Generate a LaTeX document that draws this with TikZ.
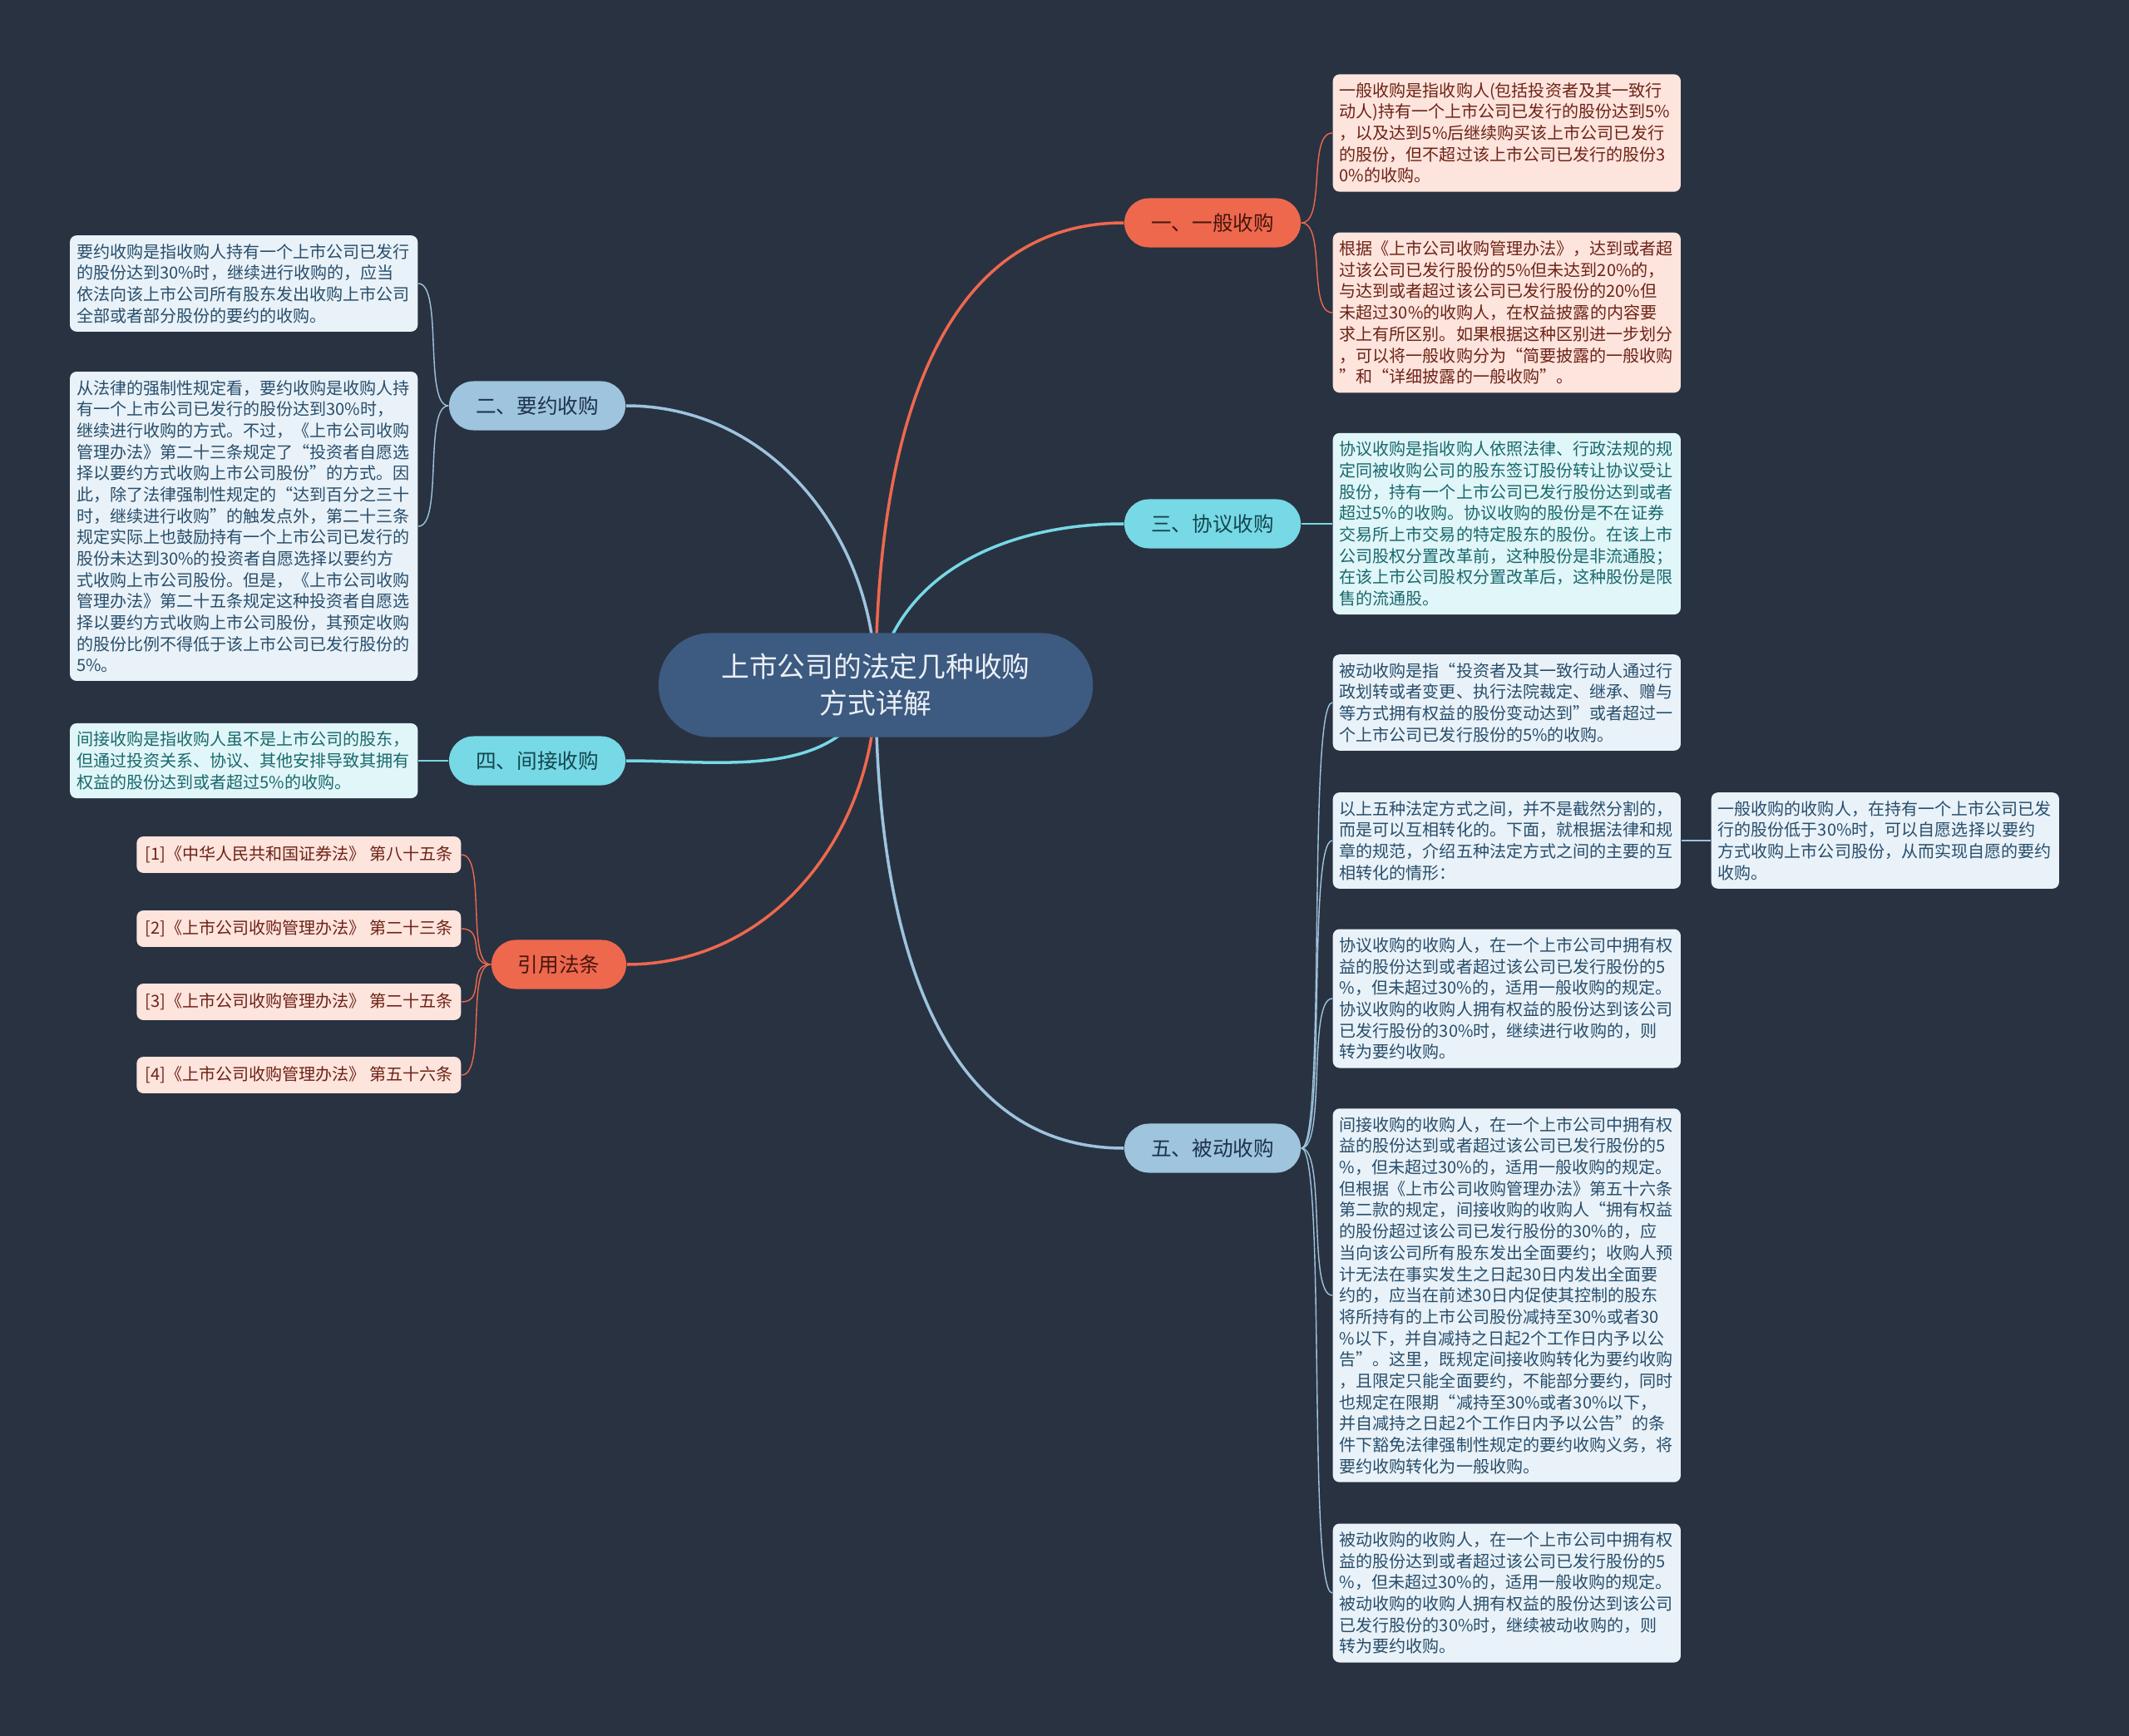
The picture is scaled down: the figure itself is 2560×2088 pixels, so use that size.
\documentclass[tikz,border=0pt]{standalone}
\usepackage{fontspec}
\setmainfont{Noto Sans CJK SC}
\usepackage{xcolor}
\usetikzlibrary{backgrounds}
\definecolor{bgdark}{RGB}{41, 50, 65}
\definecolor{rootblue}{RGB}{61, 90, 128}
\definecolor{roottext}{RGB}{235, 240, 246}
\definecolor{coral}{RGB}{238, 104, 78}
\definecolor{coraltext}{RGB}{70, 22, 12}
\definecolor{skyblue}{RGB}{158, 196, 222}
\definecolor{skytext}{RGB}{30, 50, 75}
\definecolor{aqua}{RGB}{118, 217, 229}
\definecolor{aquatext}{RGB}{20, 70, 80}
\definecolor{lightcoral}{RGB}{253, 228, 221}
\definecolor{coralleaftext}{RGB}{110, 35, 22}
\definecolor{lightsky}{RGB}{233, 242, 248}
\definecolor{skyleaftext}{RGB}{40, 78, 108}
\definecolor{lightaqua}{RGB}{225, 246, 248}
\definecolor{aqualeaftext}{RGB}{25, 105, 110}

\begin{document}
\begin{tikzpicture}[
        x=0.01cm, y=-0.01cm,
        mainnode/.style={rectangle, rounded corners=0.62cm, fill=rootblue, text=roottext, minimum width=5.22cm, minimum height=1.25cm, align=center, font=\fontsize{9.6}{12.5}\selectfont},
        topic/.style={rectangle, rounded corners=0.295cm, minimum width=2.12cm, minimum height=0.59cm, inner sep=0pt, font=\fontsize{7}{8.4}\selectfont},
        coraltopic/.style={topic, fill=coral, text=coraltext},
        skytopic/.style={topic, fill=skyblue, text=skytext},
        aquatopic/.style={topic, fill=aqua, text=aquatext},
        leafbox/.style={rectangle, rounded corners=0.08cm, text width=4.02cm, align=left, inner xsep=0.08cm, inner ysep=0.1cm, font=\fontsize{5.7}{7.3}\selectfont},
        coralleaf/.style={leafbox, fill=lightcoral, text=coralleaftext},
        skyleaf/.style={leafbox, fill=lightsky, text=skyleaftext},
        aqualeaf/.style={leafbox, fill=lightaqua, text=aqualeaftext},
        citebox/.style={rectangle, rounded corners=0.08cm, minimum width=3.88cm, minimum height=0.43cm, inner xsep=0.1cm, fill=lightcoral, text=coralleaftext, font=\fontsize{5.7}{7.3}\selectfont},
        mainlink/.style={line width=1pt},
        rightlink/.style={line width=0.7pt, out=0, in=180, out distance=0.3cm, in distance=0.3cm},
        leftlink/.style={line width=0.7pt, out=180, in=0, out distance=0.3cm, in distance=0.3cm}
    ]
    \useasboundingbox (0,0) rectangle (2560,2088);

    % Root
    \node[mainnode] (root) at (1053,824) {上市公司的法定几种收购\\方式详解};

    % Topics
    \node[coraltopic] (general) at (1458,268) {一、一般收购};
    \node[skytopic] (tender) at (646,488) {二、要约收购};
    \node[aquatopic] (agreement) at (1458,630) {三、协议收购};
    \node[aquatopic] (indirect) at (646,915) {四、间接收购};
    \node[coraltopic, minimum width=1.62cm] (citations) at (672,1160) {引用法条};
    \node[skytopic] (passive) at (1458,1381) {五、被动收购};

    % Leaves of general
    \node[coralleaf, anchor=west] (general1) at (1602,160) {一般收购是指收购人(包括投资者及其一致行\\动人)持有一个上市公司已发行的股份达到5\%\\，以及达到5\%后继续购买该上市公司已发行\\的股份，但不超过该上市公司已发行的股份3\\0\%的收购。};
    \node[coralleaf, anchor=west] (general2) at (1602,376) {根据《上市公司收购管理办法》，达到或者超\\过该公司已发行股份的5\%但未达到20\%的，\\与达到或者超过该公司已发行股份的20\%但\\未超过30\%的收购人，在权益披露的内容要\\求上有所区别。如果根据这种区别进一步划分\\，可以将一般收购分为“简要披露的一般收购\\”和“详细披露的一般收购”。};

    % Leaf of agreement
    \node[aqualeaf, anchor=west] (agreement1) at (1602,630) {协议收购是指收购人依照法律、行政法规的规\\定同被收购公司的股东签订股份转让协议受让\\股份，持有一个上市公司已发行股份达到或者\\超过5\%的收购。协议收购的股份是不在证券\\交易所上市交易的特定股东的股份。在该上市\\公司股权分置改革前，这种股份是非流通股；\\在该上市公司股权分置改革后，这种股份是限\\售的流通股。};

    % Leaves of tender
    \node[skyleaf, anchor=east] (tender1) at (503,341) {要约收购是指收购人持有一个上市公司已发行\\的股份达到30\%时，继续进行收购的，应当\\依法向该上市公司所有股东发出收购上市公司\\全部或者部分股份的要约的收购。};
    \node[skyleaf, anchor=east] (tender2) at (503,633) {从法律的强制性规定看，要约收购是收购人持\\有一个上市公司已发行的股份达到30\%时，\\继续进行收购的方式。不过，《上市公司收购\\管理办法》第二十三条规定了“投资者自愿选\\择以要约方式收购上市公司股份”的方式。因\\此，除了法律强制性规定的“达到百分之三十\\时，继续进行收购”的触发点外，第二十三条\\规定实际上也鼓励持有一个上市公司已发行的\\股份未达到30\%的投资者自愿选择以要约方\\式收购上市公司股份。但是，《上市公司收购\\管理办法》第二十五条规定这种投资者自愿选\\择以要约方式收购上市公司股份，其预定收购\\的股份比例不得低于该上市公司已发行股份的\\5\%。};

    % Leaf of indirect
    \node[aqualeaf, anchor=east] (indirect1) at (503,915) {间接收购是指收购人虽不是上市公司的股东，\\但通过投资关系、协议、其他安排导致其拥有\\权益的股份达到或者超过5\%的收购。};

    % Citations
    \node[citebox, anchor=east] (cite1) at (555,1028) {[1]《中华人民共和国证券法》 第八十五条};
    \node[citebox, anchor=east] (cite2) at (555,1117) {[2]《上市公司收购管理办法》 第二十三条};
    \node[citebox, anchor=east] (cite3) at (555,1205) {[3]《上市公司收购管理办法》 第二十五条};
    \node[citebox, anchor=east] (cite4) at (555,1293) {[4]《上市公司收购管理办法》 第五十六条};

    % Leaves of passive
    \node[skyleaf, anchor=west] (passive1) at (1602,845) {被动收购是指“投资者及其一致行动人通过行\\政划转或者变更、执行法院裁定、继承、赠与\\等方式拥有权益的股份变动达到”或者超过一\\个上市公司已发行股份的5\%的收购。};
    \node[skyleaf, anchor=west] (passive2) at (1602,1011) {以上五种法定方式之间，并不是截然分割的，\\而是可以互相转化的。下面，就根据法律和规\\章的规范，介绍五种法定方式之间的主要的互\\相转化的情形：};
    \node[skyleaf, anchor=west] (passive2a) at (2057,1011) {一般收购的收购人，在持有一个上市公司已发\\行的股份低于30\%时，可以自愿选择以要约\\方式收购上市公司股份，从而实现自愿的要约\\收购。};
    \node[skyleaf, anchor=west] (passive3) at (1602,1201) {协议收购的收购人，在一个上市公司中拥有权\\益的股份达到或者超过该公司已发行股份的5\\\%，但未超过30\%的，适用一般收购的规定。\\协议收购的收购人拥有权益的股份达到该公司\\已发行股份的30\%时，继续进行收购的，则\\转为要约收购。};
    \node[skyleaf, anchor=west] (passive4) at (1602,1558) {间接收购的收购人，在一个上市公司中拥有权\\益的股份达到或者超过该公司已发行股份的5\\\%，但未超过30\%的，适用一般收购的规定。\\但根据《上市公司收购管理办法》第五十六条\\第二款的规定，间接收购的收购人“拥有权益\\的股份超过该公司已发行股份的30\%的，应\\当向该公司所有股东发出全面要约；收购人预\\计无法在事实发生之日起30日内发出全面要\\约的，应当在前述30日内促使其控制的股东\\将所持有的上市公司股份减持至30\%或者30\\\%以下，并自减持之日起2个工作日内予以公\\告”。这里，既规定间接收购转化为要约收购\\，且限定只能全面要约，不能部分要约，同时\\也规定在限期“减持至30\%或者30\%以下，\\并自减持之日起2个工作日内予以公告”的条\\件下豁免法律强制性规定的要约收购义务，将\\要约收购转化为一般收购。};
    \node[skyleaf, anchor=west] (passive5) at (1602,1916) {被动收购的收购人，在一个上市公司中拥有权\\益的股份达到或者超过该公司已发行股份的5\\\%，但未超过30\%的，适用一般收购的规定。\\被动收购的收购人拥有权益的股份达到该公司\\已发行股份的30\%时，继续被动收购的，则\\转为要约收购。};

    \begin{scope}[on background layer]
    \fill[bgdark] (0,0) rectangle (2560,2088);

    % Root to topics
    \draw[mainlink, coral] (root.center) to[out=90, in=180] (general.west);
    \draw[mainlink, skyblue] (root.center) to[out=90, in=0] (tender.east);
    \draw[mainlink, aqua] (root.center) to[out=80, in=180] (agreement.west);
    \draw[mainlink, aqua] (root.center) to[out=-110, in=0] (indirect.east);
    \draw[mainlink, coral] (root.center) to[out=-90, in=0] (citations.east);
    \draw[mainlink, skyblue] (root.center) to[out=-90, in=180] (passive.west);

    % Topics to leaves
    \draw[coral] (general.east) to[rightlink] (general1.west);
    \draw[coral] (general.east) to[rightlink] (general2.west);
    \draw[aqua] (agreement.east) to[rightlink] (agreement1.west);
    \draw[skyblue] (tender.west) to[leftlink] (tender1.east);
    \draw[skyblue] (tender.west) to[leftlink] (tender2.east);
    \draw[aqua] (indirect.west) to[leftlink] (indirect1.east);
    \draw[coral] (citations.west) to[leftlink] (cite1.east);
    \draw[coral] (citations.west) to[leftlink] (cite2.east);
    \draw[coral] (citations.west) to[leftlink] (cite3.east);
    \draw[coral] (citations.west) to[leftlink] (cite4.east);
    \draw[skyblue] (passive.east) to[rightlink] (passive1.west);
    \draw[skyblue] (passive.east) to[rightlink] (passive2.west);
    \draw[skyblue] (passive.east) to[rightlink] (passive3.west);
    \draw[skyblue] (passive.east) to[rightlink] (passive4.west);
    \draw[skyblue] (passive.east) to[rightlink] (passive5.west);
    \draw[skyblue, line width=0.7pt] (passive2.east) -- (passive2a.west);
    \end{scope}

\end{tikzpicture}
\end{document}
